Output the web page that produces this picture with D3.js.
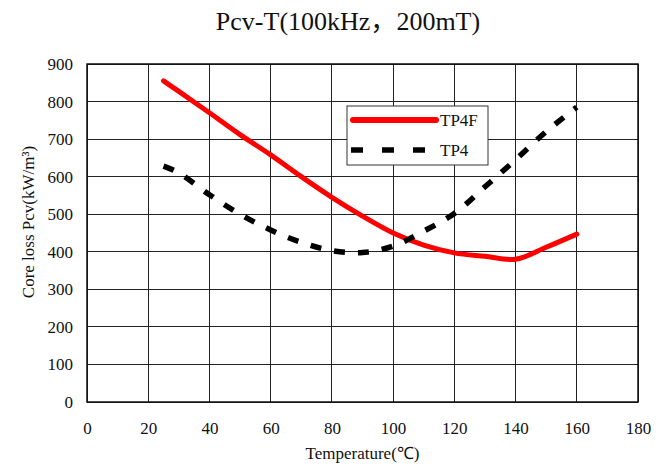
<!DOCTYPE html>
<html>
<head>
	<meta http-equiv="Content-Type" content="text/html;charset=utf-8">
	<title>Pcv-T</title>
	<script type="text/javascript" src="https://d3js.org/d3.v7.min.js"></script>
	<style type="text/css">
		body {
			margin: 0;
			background: white;
		}
		.chart text {
			font-family: "Liberation Serif", "Times New Roman", serif !important;
			fill: #111;
		}
		.grid line {
			stroke: #222;
			stroke-width: 1;
			shape-rendering: crispEdges;
		}
		.axis .domain, .axis .tick line {
			display: none;
		}
		.axis text {
			font-size: 17px;
		}
	</style>
</head>
<body>
	<div id="chart"></div>
	<script type="text/javascript">
		//data
		var temps = [25, 30, 40, 50, 60, 70, 80, 90, 100, 110, 120, 130, 140, 150, 160];
		var tp4f = [855, 827, 770, 712, 658, 600, 545, 495, 450, 418, 397, 388, 380, 412, 447];
		var tp4 = [628, 610, 552, 500, 458, 425, 403, 398, 415, 455, 502, 573, 645, 720, 785];
		var xTicks = [0, 20, 40, 60, 80, 100, 120, 140, 160, 180];
		var yTicks = [0, 100, 200, 300, 400, 500, 600, 700, 800, 900];
		var seriesNames = ["TP4F", "TP4"];

		var W = 665, H = 466,
			m = [64, 27, 64, 87], //top right bottom left
			w = W - m[1] - m[3],
			h = H - m[0] - m[2];

		var svg = d3.select("#chart").append("svg")
			.attr("class", "chart")
			.attr("width", W)
			.attr("height", H);

		var x = d3.scaleLinear().domain([0, 180]).range([0, w]);
		var y = d3.scaleLinear().domain([0, 900]).range([h, 0]);

		var main = svg.append("g")
			.attr("transform", "translate(" + m[3] + "," + m[0] + ")");

		// grid
		var grid = main.append("g").attr("class", "grid");
		grid.selectAll("line.v").data(xTicks).enter().append("line")
			.attr("class", "v")
			.attr("x1", d => x(d)).attr("x2", d => x(d))
			.attr("y1", 0).attr("y2", h);
		grid.selectAll("line.h").data(yTicks).enter().append("line")
			.attr("class", "h")
			.attr("x1", 0).attr("x2", w)
			.attr("y1", d => y(d)).attr("y2", d => y(d));

		main.append("rect")
			.attr("width", w).attr("height", h)
			.attr("fill", "none")
			.attr("stroke", "#111")
			.attr("stroke-width", 1.5);

		// axes (labels only)
		main.append("g")
			.attr("class", "axis")
			.call(d3.axisLeft(y).tickValues(yTicks).tickSize(0).tickPadding(14))
			.attr("font-family", null).attr("font-size", null);
		main.append("g")
			.attr("class", "axis")
			.attr("transform", "translate(0," + h + ")")
			.call(d3.axisBottom(x).tickValues(xTicks).tickSize(0).tickPadding(20))
			.attr("font-family", null).attr("font-size", null);

		// lines
		var line = d3.line()
			.x((d, i) => x(temps[i]))
			.y(d => y(d))
			.curve(d3.curveCatmullRom);

		main.append("path")
			.attr("d", line(tp4f))
			.attr("fill", "none")
			.attr("stroke", "#ff0000")
			.attr("stroke-width", 5)
			.attr("stroke-linecap", "round");

		main.append("path")
			.attr("d", line(tp4))
			.attr("fill", "none")
			.attr("stroke", "#000")
			.attr("stroke-width", 5.5)
			.attr("stroke-dasharray", "11,13");

		// legend
		var lg = svg.append("g").attr("transform", "translate(347,106)");
		lg.append("rect")
			.attr("width", 141).attr("height", 59)
			.attr("fill", "white")
			.attr("stroke", "#333")
			.attr("stroke-width", 1);
		lg.append("line")
			.attr("x1", 6).attr("x2", 89).attr("y1", 14).attr("y2", 14)
			.attr("stroke", "#ff0000").attr("stroke-width", 6)
			.attr("stroke-linecap", "round");
		lg.append("line")
			.attr("x1", 4).attr("x2", 82).attr("y1", 44).attr("y2", 44)
			.attr("stroke", "#000").attr("stroke-width", 5.5)
			.attr("stroke-dasharray", "12,19");
		lg.selectAll("text.lab").data(seriesNames).enter().append("text")
			.attr("class", "lab")
			.attr("x", 93)
			.attr("y", (d, i) => 20 + i * 30)
			.attr("font-size", "17px")
			.text(d => d);

		// titles
		var title = svg.append("text")
			.attr("x", 348).attr("y", 30)
			.attr("text-anchor", "middle")
			.attr("font-size", "26px");
		title.append("tspan").text("Pcv-T(100kHz");
		title.append("tspan").attr("font-family", "Noto Sans CJK SC").text("，");
		title.append("tspan").text("200mT)");

		svg.append("text")
			.attr("x", m[3] + w / 2).attr("y", 459)
			.attr("text-anchor", "middle")
			.attr("font-size", "17px")
			.text("Temperature(℃)");

		svg.append("text")
			.attr("transform", "translate(34,222) rotate(-90)")
			.attr("text-anchor", "middle")
			.attr("font-size", "17px")
			.text("Core loss Pcv(kW/m³)");
	</script>
</body>
</html>
